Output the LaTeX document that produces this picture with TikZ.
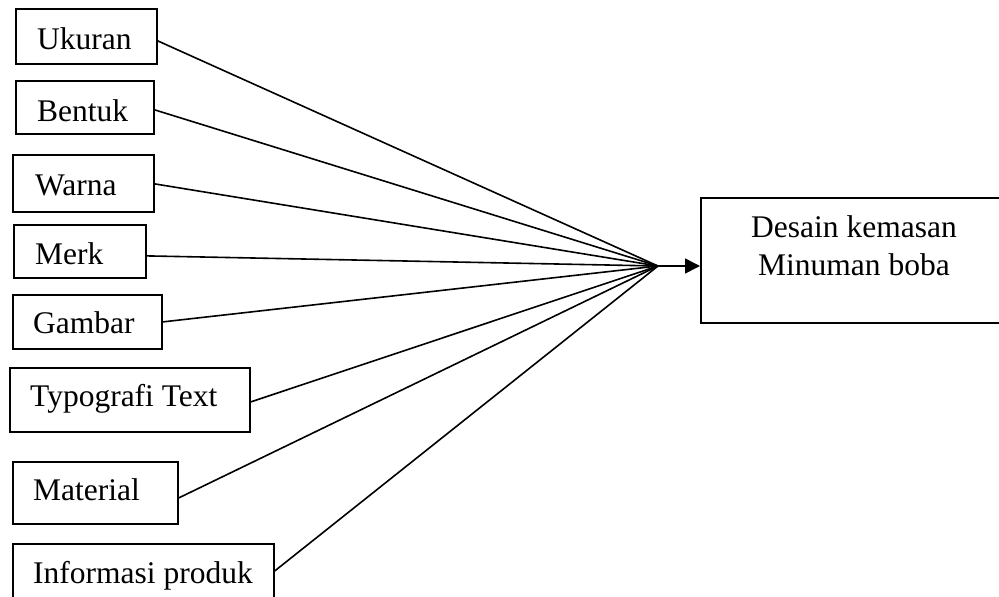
\documentclass[tikz,border=0pt]{standalone}
\usepackage{fontspec}
\setmainfont{Liberation Serif}
\usetikzlibrary{arrows.meta,calc}
\tikzset{
  box/.style={draw, line width=1.8pt, anchor=north west, inner sep=0pt},
  lbl/.style={anchor=base west, inner sep=0pt, font=\fontsize{31.5}{38}\selectfont},
  conn/.style={line width=1.6pt},
}
\begin{document}
\begin{tikzpicture}[x=1pt,y=-1pt]
\clip (0,0) rectangle (999,597);
\fill[white] (0,0) rectangle (999,597);
% left boxes
\node[box, minimum width=141pt, minimum height=55pt] (u) at (15,8) {};
\node[lbl] (ut) at (37,49) {Ukuran};
\node[box, minimum width=138pt, minimum height=53pt] (b) at (15,80) {};
\node[lbl] (bt) at (37,121) {Bentuk};
\node[box, minimum width=141pt, minimum height=57pt] (w) at (12,154) {};
\node[lbl] (wt) at (35,195) {Warna};
\node[box, minimum width=132pt, minimum height=53pt] (m) at (13,224) {};
\node[lbl] (mt) at (35,264) {Merk};
\node[box, minimum width=149pt, minimum height=54pt] (g) at (12,294) {};
\node[lbl] (gt) at (33,333) {Gambar};
\node[box, minimum width=240pt, minimum height=64pt] (t) at (9,367) {};
\node[lbl] (tt) at (30,406) {Typografi Text};
\node[box, minimum width=165pt, minimum height=62pt] (ma) at (12,461) {};
\node[lbl] (mat) at (33,500) {Material};
\node[box, minimum width=261pt, minimum height=57pt] (i) at (12,543) {};
\node[lbl] (it) at (33,583) {Informasi produk};
% target box
\node[box, minimum width=308pt, minimum height=125pt] (goal) at (700,197) {};
\node[anchor=base, inner sep=0pt, font=\fontsize{31.5}{38}\selectfont] (g1) at (854,237) {Desain kemasan};
\node[anchor=base, inner sep=0pt, font=\fontsize{31.5}{38}\selectfont] (g2) at (854,275) {Minuman boba};
% hub
\coordinate (hub) at (658,266);
\draw[conn] ([yshift=-4.5pt]u.east) -- (hub);
\draw[conn] ([yshift=-2.5pt]b.east) -- (hub);
\draw[conn] ([yshift=-0.5pt]w.east) -- (hub);
\draw[conn] ([yshift=-4.5pt]m.east) -- (hub);
\draw[conn] (g.east) -- (hub);
\draw[conn] ([yshift=-2pt]t.east) -- (hub);
\draw[conn] ([yshift=-5pt]ma.east) -- (hub);
\draw[conn] ([yshift=1.5pt]i.east) -- (hub);
\draw[conn, -{Triangle[length=15pt,width=15pt]}] (hub) -- (hub -| goal.west);
\end{tikzpicture}
\end{document}
